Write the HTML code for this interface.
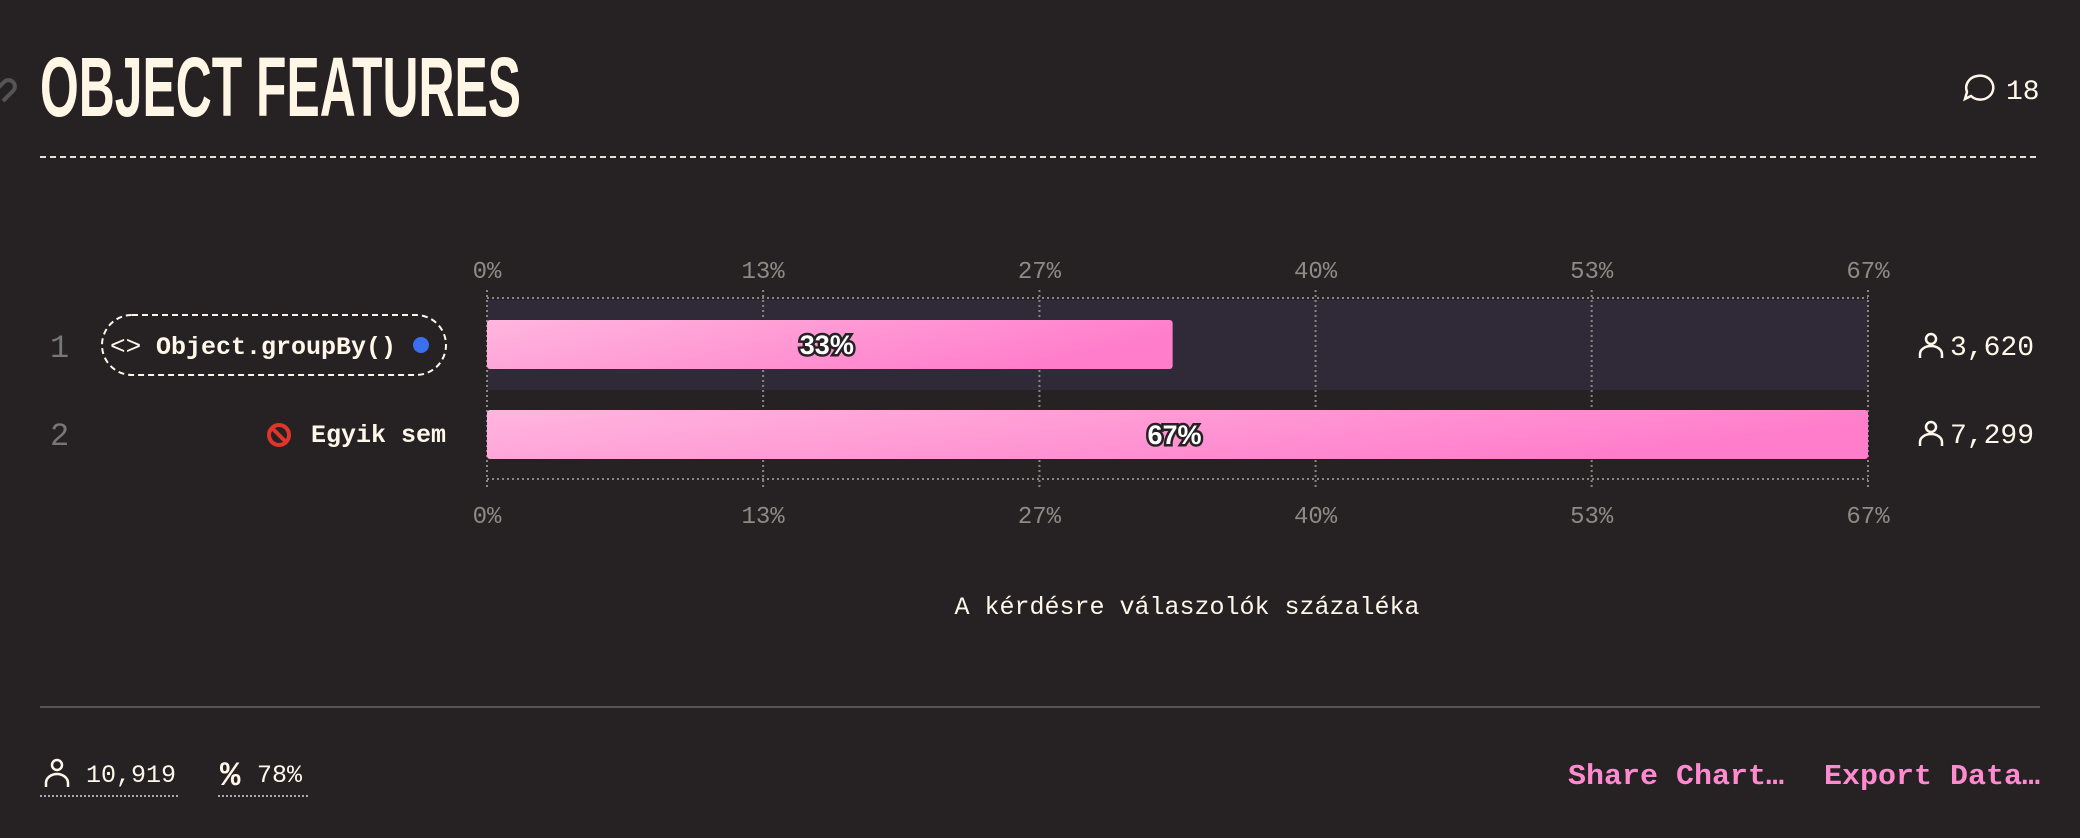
<!DOCTYPE html>
<html><head><meta charset="utf-8"><style>
html,body{margin:0;padding:0;background:#262223;}
body{width:2080px;height:838px;overflow:hidden;position:relative;font-family:"Liberation Mono",monospace;color:#fff8ea;}
svg{position:absolute;left:0;top:0;}
</style></head><body>
<svg width="2080" height="838" viewBox="0 0 2080 838" id="chart">
<defs>
<linearGradient id="barGrad" x1="0" y1="0" x2="1" y2="0.3">
<stop offset="0" stop-color="#ffb6de"/><stop offset="1" stop-color="#ff7dcb"/>
</linearGradient>
</defs>
<g stroke="#555" stroke-width="4" fill="none">
<path d="M-6 92 l10 -10 a6 6 0 0 1 9 9 l-10 10"/>
</g>
<text x="40" y="116" font-family="'Liberation Sans',sans-serif" font-weight="bold" font-size="84" fill="#fff6e6" textLength="481" lengthAdjust="spacingAndGlyphs">OBJECT FEATURES</text>
<g fill="none" stroke="#fff8ea" stroke-width="2.5">
<path d="M1977 76 a13 12 0 1 1 -6 20 l-6 3 l2 -7 a13 12 0 0 1 10 -16z"/>
</g>
<text x="2006" y="99" font-size="28" fill="#fff8ea">18</text>
<line x1="40" y1="157" x2="2040" y2="157" stroke="#e8e2d6" stroke-width="2" stroke-dasharray="6 4"/>
<g id="plot"></g>
<text x="1187" y="614" font-size="25" fill="#fff8ea" text-anchor="middle">A kérdésre válaszolók százaléka</text>
<line x1="40" y1="707" x2="2040" y2="707" stroke="#555" stroke-width="2"/>
<g>
<circle cx="57" cy="765" r="5" fill="none" stroke="#fff8ea" stroke-width="2.5"/>
<path d="M46 787 v-4 a11 9 0 0 1 22 0 v4" fill="none" stroke="#fff8ea" stroke-width="2.5"/>
<text x="86" y="782" font-size="25" fill="#fff8ea">10,919</text>
<line x1="40" y1="796" x2="178" y2="796" stroke="#aaa" stroke-width="2" stroke-dasharray="2 2"/>
</g>
<g>
<text x="220" y="785" font-size="34" font-weight="bold" fill="#fff8ea">%</text>
<text x="257" y="782" font-size="25" fill="#fff8ea">78%</text>
<line x1="218" y1="796" x2="310" y2="796" stroke="#aaa" stroke-width="2" stroke-dasharray="2 2"/>
</g>
<text x="1568" y="784" font-size="29" font-weight="bold" fill="#ff8ad0" textLength="216" lengthAdjust="spacingAndGlyphs">Share Chart…</text>
<text x="1824" y="784" font-size="29" font-weight="bold" fill="#ff8ad0" textLength="216" lengthAdjust="spacingAndGlyphs">Export Data…</text>
</svg>
<script>
const categories = ["Object.groupBy()", "Egyik sem"];
const percentValues = [33.1, 66.67];
const countLabels = ["3,620", "7,299"];
const tickValues = [0, 13.33, 26.67, 40, 53.33, 66.67];
const tickLabels = ["0%", "13%", "27%", "40%", "53%", "67%"];

const NS = "http://www.w3.org/2000/svg";
const plot = document.getElementById("plot");
const x0 = 487, x1 = 1868, xMax = 66.67;
function xScale(v){ return x0 + (v / xMax) * (x1 - x0); }
const rowTop = 300, rowH = 90, barPad = 20, barH = 49;
function rowY(i){ return rowTop + i * rowH; }
function mk(tag, attrs, parent){
  const e = document.createElementNS(NS, tag);
  for (const k in attrs) e.setAttribute(k, attrs[k]);
  (parent || plot).appendChild(e);
  return e;
}
const band = mk("rect", {x: x0, y: rowY(0), width: x1 - x0, height: rowH, fill: "#302a38"});


const gridTop = 298, gridBot = 479;
tickValues.forEach((v, i) => {
  const x = xScale(v);
  const gl = mk("line", {x1: x, y1: gridTop - 8, x2: x, y2: gridBot + 8, stroke: "#8a8580", "stroke-width": 2, "stroke-dasharray": "2 3"});
  
  
  const tt = mk("text", {x: x, y: 278, "font-size": 24, fill: "#8f8a84", "text-anchor": "middle"});
  tt.textContent = tickLabels[i];
  
  
  const tb = mk("text", {x: x, y: 523, "font-size": 24, fill: "#8f8a84", "text-anchor": "middle"});
  tb.textContent = tickLabels[i];
  
  
});
[gridTop, gridBot].forEach(y => {
  const l = mk("line", {x1: x0, y1: y, x2: x1, y2: y, stroke: "#8a8580", "stroke-width": 2, "stroke-dasharray": "2 3"});
  
  
});
categories.forEach((c, i) => {
  const y = rowY(i);
  const cy = y + rowH / 2 + (i === 0 ? 0 : -2);
  const bar = mk("rect", {x: x0, y: y + barPad, width: xScale(percentValues[i]) - x0, height: barH, rx: 3, fill: "url(#barGrad)"});
  
  
  const bx = (x0 + xScale(percentValues[i])) / 2;
  const vl = mk("text", {x: bx - 3, y: y + barPad + 34, "font-family": "'Liberation Sans',sans-serif", "font-weight": "bold", "font-size": 27, fill: "#fff", stroke: "#262223", "stroke-width": 5, "paint-order": "stroke", "text-anchor": "middle"});
  vl.textContent = Math.round(percentValues[i]) + "%";
  
  
  const rk = mk("text", {x: 50, y: cy + 12, "font-size": 32, fill: "#777"});
  rk.textContent = String(i + 1);
  
  
  const lb = mk("text", {x: i === 0 ? 156 : 446, y: cy + 9, "font-size": 25, "font-weight": "bold", fill: "#fff8ea", "text-anchor": i === 0 ? "start" : "end"});
  lb.textContent = c;
  
  
  const pi = mk("circle", {cx: 1931, cy: cy - 6, r: 5, fill: "none", stroke: "#fff8ea", "stroke-width": 2.5});
  
  
  const pb = mk("path", {d: "M1920 " + (cy + 13) + " v-4 a11 8 0 0 1 22 0 v4", fill: "none", stroke: "#fff8ea", "stroke-width": 2.5});
  
  
  const ct = mk("text", {x: 1950, y: cy + 10, "font-size": 28, fill: "#fff8ea"});
  ct.textContent = countLabels[i];
  
  
});
const pill = mk("rect", {x: 102, y: 315, width: 344, height: 60, rx: 30, fill: "none", stroke: "#fff8ea", "stroke-width": 2, "stroke-dasharray": "6 4"});


const code = mk("text", {x: 110, y: 354, "font-size": 26, fill: "#fff8ea"});
code.textContent = "<>";


const dot = mk("circle", {cx: 421, cy: 345, r: 8, fill: "#3a6ff0"});


const noC = mk("circle", {cx: 279, cy: 435, r: 10, fill: "none", stroke: "#e0352b", "stroke-width": 4});


const noL = mk("line", {x1: 272, y1: 428, x2: 286, y2: 442, stroke: "#e0352b", "stroke-width": 4});


</script>
</body></html>
